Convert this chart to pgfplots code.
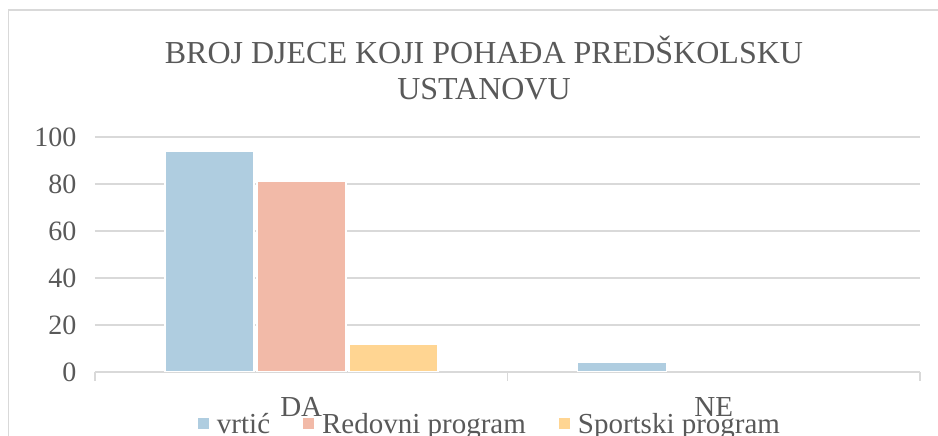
\documentclass[border=0pt]{standalone}
\usepackage{fontspec}
\setmainfont{Liberation Serif}
\usepackage{pgfplots}
\pgfplotsset{compat=1.18}

\definecolor{txt}{HTML}{595959}
\definecolor{grd}{HTML}{D9D9D9}
\definecolor{cvrtic}{HTML}{AFCDE0}
\definecolor{credovni}{HTML}{F2BAA8}
\definecolor{csport}{HTML}{FFD592}

\begin{document}
\begin{tikzpicture}
  \useasboundingbox (0pt,0pt) rectangle (938pt,436pt);
  \clip (0pt,0pt) rectangle (938pt,436pt);
  % chart area border (cut at right and bottom)
  \draw[grd, line width=1.5pt] (8.5pt,-20pt) -- (8.5pt,426pt) -- (960pt,426pt);

  \begin{axis}[
    at={(95pt,64pt)}, anchor=south west,
    scale only axis, width=825pt, height=235pt,
    xmin=-0.5, xmax=1.5,
    ymin=0, ymax=100,
    ybar=3pt, bar width=89pt,
    xtick={0,1}, xticklabels={DA,NE},
    minor xtick={-0.5,0.5,1.5},
    ytick={0,20,40,60,80,100},
    ymajorgrids=true,
    grid style={grd, line width=1.5pt},
    axis x line=bottom, axis y line=left,
    x axis line style={grd, line width=1.5pt, -},
    y axis line style={draw=none},
    tick align=outside,
    major tick length=0pt, minor tick length=9pt,
    major x tick style={draw=none},
    minor x tick style={grd, line width=1.5pt},
    ytick style={draw=none},
    ticklabel style={text=txt},
    yticklabel style={font=\fontsize{28}{34}\selectfont, xshift=-15pt},
    xticklabel style={font=\fontsize{29}{34}\selectfont, yshift=-22pt},
    /pgf/number format/assume math mode=true,
    title={BROJ DJECE KOJI POHAĐA PREDŠKOLSKU\\USTANOVU},
    title style={align=center, font=\fontsize{32}{36}\selectfont, text=txt,
      at={(0.4715,1)}, anchor=south, yshift=27pt},
    legend columns=3,
    legend cell align=left,
    legend style={draw=none, fill=none, font=\fontsize{29}{34}\selectfont,
      text=txt, at={(0.4788,-0.221)}, anchor=center,
      /tikz/every even column/.append style={column sep=31pt}},
    legend image code/.code={%
      \path[#1, draw=none] (0pt,-5.5pt) rectangle (11pt,5.5pt);
      \path[draw=none, fill=none] (0pt,0pt) -- (17pt,0pt);},
  ]

  \addplot[fill=cvrtic, draw=white, line width=1.5pt]
    coordinates {(0,94) (1,4)};
  \addlegendentry{vrtić}

  \addplot[fill=credovni, draw=white, line width=1.5pt]
    coordinates {(0,81)};
  \addlegendentry{Redovni program}

  \addplot[fill=csport, draw=white, line width=1.5pt]
    coordinates {(0,12)};
  \addlegendentry{Sportski program}

  \end{axis}
\end{tikzpicture}
\end{document}
